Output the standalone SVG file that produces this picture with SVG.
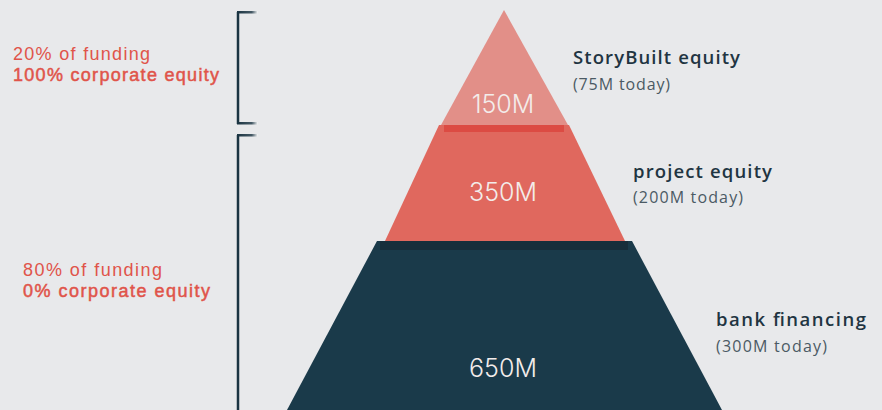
<svg xmlns="http://www.w3.org/2000/svg" width="882" height="410" viewBox="0 0 882 410">
  <defs>
    <linearGradient id="tickFade" x1="0" y1="0" x2="1" y2="0">
      <stop offset="0" stop-color="#1a3442"/>
      <stop offset="0.7" stop-color="#1a3442" stop-opacity="0.8"/>
      <stop offset="1" stop-color="#ffffff" stop-opacity="0.9"/>
    </linearGradient>
  </defs>
  <style>
    .amount { font-family: Inter, "Open Sans", "Liberation Sans", sans-serif; font-weight: 300; font-size: 25px; fill: #f3ecea; text-anchor: middle; }
    .title { font-family: "Open Sans", "Liberation Sans", sans-serif; font-weight: 600; font-size: 18.5px; fill: #1f3542; }
    .sub { font-family: "Open Sans", "Liberation Sans", sans-serif; font-weight: 400; font-size: 16px; fill: #4b5a64; }
    .note { font-family: "Liberation Sans", Arial, sans-serif; font-size: 18px; fill: #e0544a; }
    .note-strong { stroke: #e0544a; stroke-width: 0.5; }
    .bracket { stroke: #1a3442; stroke-width: 2.5; fill: none; }
  </style>

  <rect width="882" height="410" fill="#e8e9eb"/>

  <!-- funding-split brackets -->
  <g id="connectors">
    <line class="bracket" x1="238" y1="12" x2="238" y2="124"/>
    <rect x="237" y="11" width="21" height="2.5" fill="url(#tickFade)"/>
    <rect x="237" y="122" width="21" height="2.5" fill="url(#tickFade)"/>
    <line class="bracket" x1="238" y1="135" x2="238" y2="410"/>
    <rect x="237" y="134" width="21" height="2.5" fill="url(#tickFade)"/>
  </g>

  <!-- bottom tier: bank financing -->
  <g id="tier-bank">
    <polygon points="377,241 632,241 722,410 287,410" fill="#1a3a4a"/>
    <polygon points="380,241 628,241 628,250 380,250" fill="#172e3b"/>
    <text class="amount" x="503" y="377">650M</text>
  </g>

  <!-- middle tier: project equity -->
  <g id="tier-project">
    <polygon points="439,125 569,125 625,241 385,241" fill="#e0685e"/>
    <polygon points="444,125 564,125 564,132 444,132" fill="#dc4b43"/>
    <text class="amount" x="503" y="201">350M</text>
  </g>

  <!-- top tier: StoryBuilt equity -->
  <g id="tier-storybuilt">
    <polygon points="504,10 568,125 441,125" fill="#e28f88"/>
    <text class="amount" x="503" y="113">150M</text>
  </g>

  <!-- tier labels -->
  <g id="label-storybuilt">
    <text class="title" x="573" y="64" textLength="167" lengthAdjust="spacing">StoryBuilt equity</text>
    <text class="sub" x="573" y="90" textLength="97" lengthAdjust="spacing">(75M today)</text>
  </g>
  <g id="label-project">
    <text class="title" x="633" y="178" textLength="139" lengthAdjust="spacing">project equity</text>
    <text class="sub" x="633" y="203" textLength="110" lengthAdjust="spacing">(200M today)</text>
  </g>
  <g id="label-bank">
    <text class="title" x="716" y="326" textLength="150" lengthAdjust="spacing">bank financing</text>
    <text class="sub" x="716" y="352" textLength="111" lengthAdjust="spacing">(300M today)</text>
  </g>

  <!-- funding notes -->
  <g id="note-corporate">
    <text class="note" x="13" y="60" textLength="137" lengthAdjust="spacing">20% of funding</text>
    <text class="note note-strong" x="13" y="81" textLength="206" lengthAdjust="spacing">100% corporate equity</text>
  </g>
  <g id="note-external">
    <text class="note" x="23" y="276" textLength="139" lengthAdjust="spacing">80% of funding</text>
    <text class="note note-strong" x="23" y="297" textLength="187" lengthAdjust="spacing">0% corporate equity</text>
  </g>
</svg>
